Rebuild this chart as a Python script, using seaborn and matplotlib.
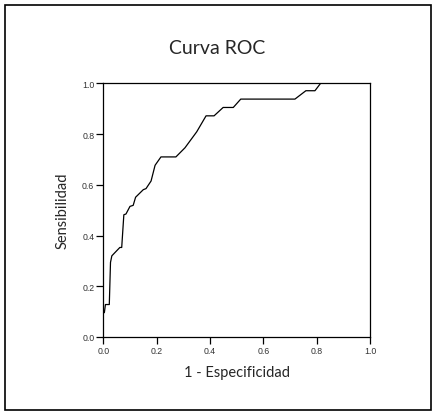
import matplotlib
matplotlib.use("Agg")
import matplotlib.pyplot as plt
import seaborn as sns
import pandas as pd
from matplotlib.patches import Rectangle

# ROC curve data
fpr = [0.0, 0.0, 0.004, 0.008, 0.0225, 0.027, 0.032, 0.062, 0.069, 0.077, 0.085,
       0.100, 0.112, 0.121, 0.150, 0.160, 0.179, 0.194, 0.216, 0.272, 0.306,
       0.350, 0.385, 0.415, 0.449, 0.487, 0.515, 0.718, 0.759, 0.793, 0.814, 1.0]
tpr = [0.0, 0.096, 0.096, 0.128, 0.128, 0.294, 0.320, 0.353, 0.353, 0.482, 0.485,
       0.515, 0.519, 0.551, 0.581, 0.585, 0.615, 0.677, 0.710, 0.710, 0.746,
       0.809, 0.872, 0.872, 0.905, 0.905, 0.938, 0.938, 0.971, 0.971, 1.000, 1.0]
ticks = [0.0, 0.2, 0.4, 0.6, 0.8, 1.0]
tick_labels = ["0.0", "0.2", "0.4", "0.6", "0.8", "1.0"]
title = "Curva ROC"
xlabel = "1 - Especificidad"
ylabel = "Sensibilidad"

df = pd.DataFrame({"fpr": fpr, "tpr": tpr})

sns.set_style("white")
fig = plt.figure(figsize=(4.34, 4.14), dpi=100)
ax = fig.add_axes([0.238, 0.1836, 0.615, 0.6126])

sns.lineplot(data=df, x="fpr", y="tpr", sort=False, estimator=None,
             color="black", lw=0.9, ax=ax)

ax.set_xlim(0, 1)
ax.set_ylim(0, 1)
ax.set_xticks(ticks)
ax.set_yticks(ticks)
ax.set_xticklabels(tick_labels, fontsize=6.3, family="Liberation Sans")
ax.set_yticklabels(tick_labels, fontsize=6.3, family="Liberation Sans")
ax.tick_params(axis="both", direction="out", length=5, width=0.9, pad=1.5,
               bottom=True, left=True, colors="black")
for lbl in ax.get_xticklabels() + ax.get_yticklabels():
    lbl.set_color("#333333")
for s in ax.spines.values():
    s.set_visible(True)
    s.set_color("black")
    s.set_linewidth(0.9)

ax.set_xlabel(xlabel, fontsize=10.5, family="Lato", labelpad=7)
ax.set_ylabel(ylabel, fontsize=10.5, family="Lato", labelpad=9)
fig.text(0.5, 0.882, title, ha="center", va="center", fontsize=14, family="Lato")

fig.patches.append(Rectangle((5/434, 1-411/414), 426/434, 405/414,
                             transform=fig.transFigure, fill=False,
                             edgecolor="black", lw=1.2, figure=fig))

fig.savefig("out.png", dpi=100)
